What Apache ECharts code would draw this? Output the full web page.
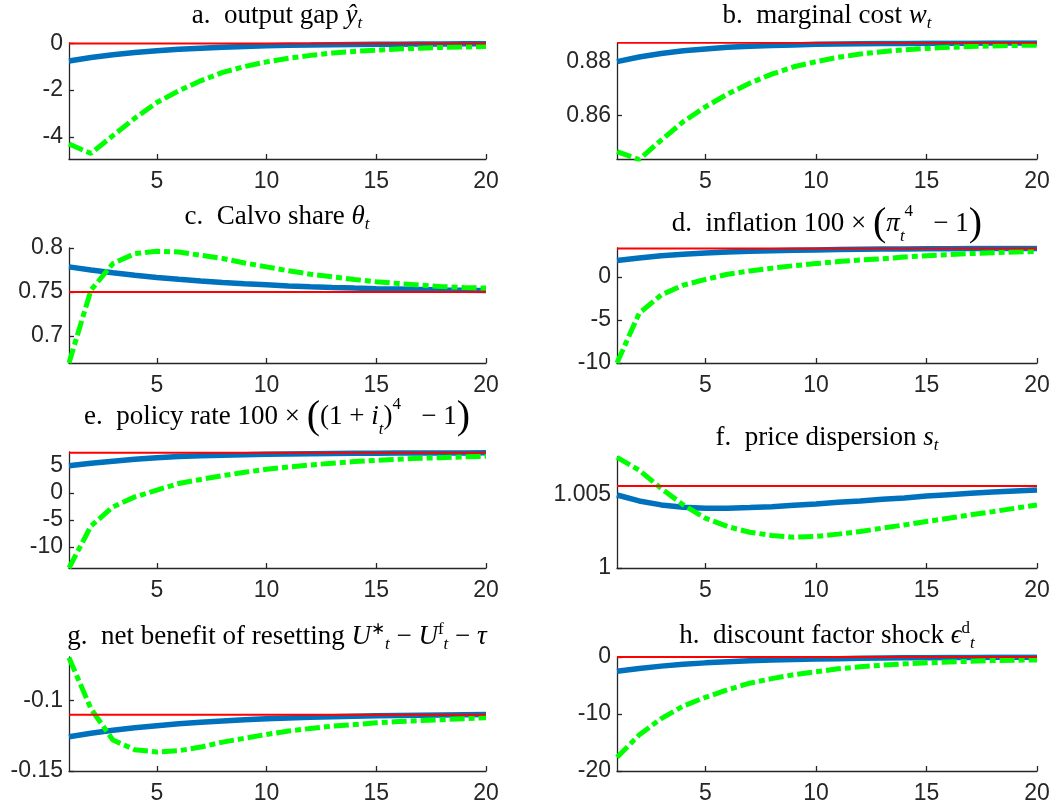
<!DOCTYPE html>
<html>
<head>
<meta charset="utf-8">
<script src="https://cdn.jsdelivr.net/npm/echarts@6/dist/echarts.min.js"></script>
<style>
  html, body { margin: 0; padding: 0; background: #fff; }
  #chart { width: 1053px; height: 805px; }
</style>
</head>
<body>
<div id="chart"></div>
<script>
  var t = [1, 2, 3, 4, 5, 6, 7, 8, 9, 10, 11, 12, 13, 14, 15, 16, 17, 18, 19, 20]
  var xTicks = [5, 10, 15, 20]

  // a. output gap
  var gapSS = 0
  var gapBlue = [-0.75, -0.6, -0.48, -0.39, -0.31, -0.25, -0.2, -0.16, -0.13, -0.1, -0.08, -0.07, -0.05, -0.04, -0.03, -0.03, -0.02, -0.02, -0.01, -0.01]
  var gapGreen = [-4.31, -4.71, -3.95, -3.2, -2.53, -2.03, -1.6, -1.24, -0.99, -0.79, -0.63, -0.51, -0.41, -0.34, -0.29, -0.24, -0.2, -0.17, -0.15, -0.13]
  // b. marginal cost
  var mcSS = 0.887
  var mcBlue = [0.8800, 0.8817, 0.8830, 0.8840, 0.8847, 0.8853, 0.8857, 0.8860, 0.8862, 0.8864, 0.8865, 0.8866, 0.8867, 0.8867, 0.8868, 0.8868, 0.8868, 0.8869, 0.8869, 0.8869]
  var mcGreen = [0.8467, 0.8438, 0.8510, 0.8578, 0.8633, 0.8680, 0.8720, 0.8754, 0.8781, 0.8800, 0.8816, 0.8828, 0.8837, 0.8844, 0.8849, 0.8853, 0.8856, 0.8858, 0.8860, 0.8861]
  // c. Calvo share
  var calvoSS = 0.75
  var calvoBlue = [0.7785, 0.775, 0.7718, 0.769, 0.7665, 0.7643, 0.7623, 0.7606, 0.7592, 0.758, 0.7568, 0.7558, 0.755, 0.7543, 0.7537, 0.7532, 0.7527, 0.7522, 0.7518, 0.7515]
  var calvoGreen = [0.669, 0.752, 0.7823, 0.7936, 0.7962, 0.7955, 0.7917, 0.788, 0.783, 0.7785, 0.774, 0.7702, 0.7672, 0.7642, 0.7615, 0.7596, 0.7577, 0.756, 0.755, 0.7543]
  // d. inflation
  var inflSS = 3.3
  var inflBlue = [1.9, 2.2, 2.45, 2.62, 2.77, 2.88, 2.97, 3.04, 3.09, 3.13, 3.17, 3.2, 3.22, 3.24, 3.26, 3.27, 3.28, 3.29, 3.3, 3.3]
  var inflGreen = [-10, -4.23, -2.1, -0.96, -0.3, 0.3, 0.69, 1.0, 1.3, 1.54, 1.77, 1.96, 2.1, 2.3, 2.46, 2.58, 2.7, 2.8, 2.88, 2.96]
  // e. policy rate
  var rateSS = 7.4
  var rateBlue = [5.0, 5.45, 5.85, 6.2, 6.5, 6.7, 6.85, 6.97, 7.06, 7.13, 7.19, 7.24, 7.28, 7.31, 7.33, 7.35, 7.36, 7.37, 7.38, 7.39]
  var rateGreen = [-13.9, -6.15, -2.6, -0.75, 0.5, 1.74, 2.48, 3.17, 3.8, 4.35, 4.78, 5.16, 5.47, 5.78, 6.0, 6.2, 6.4, 6.5, 6.65, 6.77]
  // f. price dispersion
  var dispSS = 1.00561
  var dispBlue = [1.00500, 1.00459, 1.00432, 1.00416, 1.00409, 1.00409, 1.00414, 1.00420, 1.00430, 1.00439, 1.00450, 1.00459, 1.00470, 1.00480, 1.00493, 1.00502, 1.00511, 1.00520, 1.00527, 1.00534]
  var dispGreen = [1.00758, 1.00670, 1.00545, 1.00432, 1.00341, 1.00284, 1.00245, 1.00223, 1.00211, 1.00216, 1.00232, 1.00250, 1.00273, 1.00295, 1.00318, 1.00341, 1.00364, 1.00386, 1.00409, 1.00432]
  // g. net benefit of resetting
  var netSS = -0.110
  var netBlue = [-0.1256, -0.1232, -0.1211, -0.1193, -0.1178, -0.1165, -0.1154, -0.1144, -0.1136, -0.1129, -0.1123, -0.1118, -0.1114, -0.1111, -0.1108, -0.1106, -0.1104, -0.1102, -0.1100, -0.1099]
  var netGreen = [-0.0695, -0.1058, -0.128, -0.1349, -0.1365, -0.1356, -0.133, -0.1295, -0.1267, -0.124, -0.1216, -0.1198, -0.1181, -0.117, -0.1158, -0.1149, -0.1142, -0.1135, -0.1128, -0.1121]
  // h. discount factor shock
  var shockSS = 0
  var shockBlue = [-2.5, -2.0, -1.6, -1.28, -1.03, -0.83, -0.67, -0.54, -0.44, -0.36, -0.29, -0.23, -0.19, -0.15, -0.12, -0.1, -0.08, -0.06, -0.05, -0.04]
  var shockGreen = [-17.6, -13.7, -10.8, -8.6, -7.07, -5.75, -4.6, -3.8, -3.1, -2.59, -2.07, -1.72, -1.44, -1.2, -1.03, -0.86, -0.75, -0.63, -0.57, -0.52]

  var titles = [
    'a.  output gap {it|ŷ}{sub|t}',
    'b.  marginal cost {it|w}{sub|t}',
    'c.  Calvo share {it|θ}{sub|t}',
    'd.  inflation 100 × {big|(}{it|π}{sub|t}{sup|4}   − 1{big|)}',
    'e.  policy rate 100 × {big|(}(1 + {it|i}{sub|t}){sup|4}   − 1{big|)}',
    'f.  price dispersion {it|s}{sub|t}',
    'g.  net benefit of resetting {it|U}{sup|∗}{sub|t} − {it|U}{sup|f}{sub|t} − {it|τ}',
    'h.  discount factor shock {it|ϵ}{sup|d}{sub|t}'
  ]
  var yTicks = [[-4, -2, 0], [0.86, 0.88], [0.7, 0.75, 0.8], [-10, -5, 0], [-10, -5, 0, 5], [1, 1.005], [-0.15, -0.1], [-20, -10, 0]]
  var yMin = [-4.95, 0.844, 0.669, -10, -13.9, 1, -0.15, -20]
  var yMax = [0.02, 0.8869, 0.8, 3.35, 7.55, 1.0076, -0.069, 0]
  var ssVals = [gapSS, mcSS, calvoSS, inflSS, rateSS, dispSS, netSS, shockSS]
  var blueVals = [gapBlue, mcBlue, calvoBlue, inflBlue, rateBlue, dispBlue, netBlue, shockBlue]
  var greenVals = [gapGreen, mcGreen, calvoGreen, inflGreen, rateGreen, dispGreen, netGreen, shockGreen]

  // panel boxes (left, top, width, height) and title centres
  var boxes = [
    [69, 43, 417, 116], [617, 43, 420, 116],
    [69, 248, 417, 115], [617, 248, 420, 115],
    [69, 452, 417, 116], [617, 457, 420, 111],
    [69, 657, 417, 116], [617, 657, 420, 116]
  ]
  var titlePos = [[277, 16], [827, 16], [277, 217], [827, 224], [277, 417], [827, 438], [277, 637], [827, 636]]

  var serif = 'Liberation Serif'
  var sans = 'Liberation Sans'
  var ink = '#262626'

  function pairs (vals) {
    return t.map(function (x, i) { return [x, vals[i]] })
  }

  var grids = [], xAxes = [], yAxes = [], series = [], graphics = []
  for (var k = 0; k < 8; k++) {
    var b = boxes[k]
    grids.push({ left: b[0], top: b[1], width: b[2], height: b[3] })
    xAxes.push({
      type: 'value', gridIndex: k, min: 1, max: 20,
      axisLine: { show: true, onZero: false, lineStyle: { color: ink, width: 1.3 } },
      axisTick: { show: true, inside: true, length: 5, customValues: xTicks, lineStyle: { color: ink, width: 1.3 } },
      axisLabel: { customValues: xTicks, color: ink, fontSize: 23, fontFamily: sans, margin: 11 },
      splitLine: { show: false }
    })
    yAxes.push({
      type: 'value', gridIndex: k, min: yMin[k], max: yMax[k],
      axisLine: { show: true, onZero: false, lineStyle: { color: ink, width: 1.3 } },
      axisTick: { show: true, inside: true, length: 5, customValues: yTicks[k], lineStyle: { color: ink, width: 1.3 } },
      axisLabel: { customValues: yTicks[k], color: ink, fontSize: 23, fontFamily: sans, margin: 6 },
      splitLine: { show: false }
    })
    series.push({
      type: 'line', xAxisIndex: k, yAxisIndex: k, showSymbol: false, z: 2,
      lineStyle: { color: '#0072bd', width: 5.5 },
      data: pairs(blueVals[k])
    })
    series.push({
      type: 'line', xAxisIndex: k, yAxisIndex: k, showSymbol: false, z: 3,
      lineStyle: { color: '#00ff00', width: 5, type: [15, 4, 6, 4], cap: 'butt' },
      data: pairs(greenVals[k])
    })
    series.push({
      type: 'line', xAxisIndex: k, yAxisIndex: k, showSymbol: false, z: 4,
      lineStyle: { color: '#ff0000', width: 2 },
      data: pairs(t.map(function () { return ssVals[k] }))
    })
    graphics.push({
      type: 'text', x: titlePos[k][0], y: titlePos[k][1],
      style: {
        text: titles[k], align: 'center', verticalAlign: 'middle',
        fontFamily: serif, fontSize: 27, fill: '#000',
        rich: {
          it: { fontFamily: serif, fontSize: 27, fontStyle: 'italic', fill: '#000', lineHeight: 32 },
          sub: { fontFamily: serif, fontSize: 17, fontStyle: 'italic', fill: '#000', verticalAlign: 'bottom', lineHeight: 17 },
          sup: { fontFamily: serif, fontSize: 17, fill: '#000', verticalAlign: 'top', lineHeight: 20 },
          big: { fontFamily: serif, fontSize: 40, fill: '#000', lineHeight: 42 }
        }
      }
    })
  }

  var myChart = echarts.init(document.getElementById('chart'))
  myChart.setOption({
    animation: false,
    backgroundColor: '#fff',
    grid: grids,
    xAxis: xAxes,
    yAxis: yAxes,
    series: series,
    graphic: graphics
  })
</script>
</body>
</html>
